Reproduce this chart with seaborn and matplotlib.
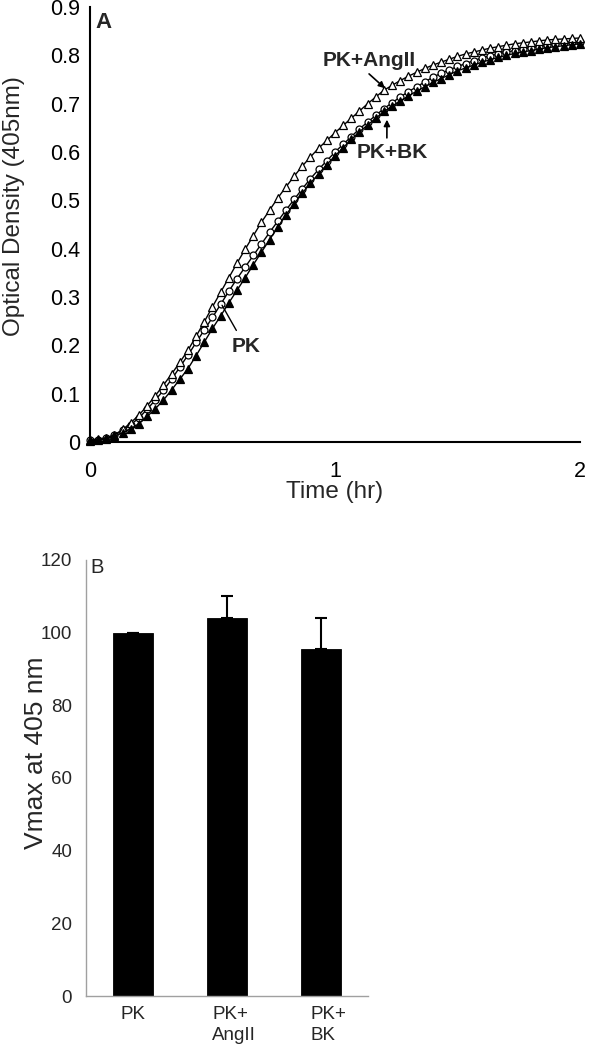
import numpy as np
import pandas as pd
import matplotlib
matplotlib.use("Agg")
import matplotlib.pyplot as plt
import matplotlib.transforms as mtransforms
import seaborn as sns

# --- panel A: optical density time course (one reading every 2 min) ---
minutes = [0, 2, 4, 6, 8, 10, 12, 14, 16, 18, 20, 22, 24, 26, 28, 30, 32, 34, 36, 38,
           40, 42, 44, 46, 48, 50, 52, 54, 56, 58, 60, 62, 64, 66, 68, 70, 72, 74, 76, 78,
           80, 82, 84, 86, 88, 90, 92, 94, 96, 98, 100, 102, 104, 106, 108, 110, 112, 114,
           116, 118, 120]

od_angii = [0.005, 0.006, 0.009, 0.015, 0.026, 0.040, 0.056, 0.075, 0.096, 0.118,
            0.141, 0.165, 0.190, 0.219, 0.249, 0.280, 0.310, 0.340, 0.370, 0.399,
            0.427, 0.455, 0.480, 0.505, 0.528, 0.550, 0.571, 0.590, 0.608, 0.624,
            0.640, 0.655, 0.670, 0.685, 0.700, 0.714, 0.728, 0.738, 0.748, 0.757,
            0.765, 0.773, 0.780, 0.786, 0.792, 0.798, 0.803, 0.807, 0.811, 0.815,
            0.818, 0.821, 0.824, 0.826, 0.828, 0.830, 0.832, 0.833, 0.834, 0.835, 0.836]

od_pk = [0.004, 0.005, 0.008, 0.014, 0.024, 0.036, 0.050, 0.068, 0.087, 0.107,
         0.130, 0.155, 0.180, 0.206, 0.232, 0.258, 0.285, 0.312, 0.338, 0.362,
         0.386, 0.410, 0.434, 0.457, 0.480, 0.502, 0.524, 0.545, 0.564, 0.582,
         0.600, 0.616, 0.632, 0.648, 0.662, 0.676, 0.690, 0.702, 0.714, 0.725,
         0.735, 0.745, 0.755, 0.763, 0.770, 0.777, 0.783, 0.789, 0.795, 0.799,
         0.803, 0.807, 0.810, 0.813, 0.816, 0.818, 0.821, 0.823, 0.825, 0.827, 0.828]

od_bk = [0.003, 0.004, 0.007, 0.012, 0.019, 0.028, 0.038, 0.053, 0.069, 0.087,
         0.108, 0.130, 0.152, 0.179, 0.207, 0.235, 0.261, 0.288, 0.314, 0.340,
         0.367, 0.393, 0.419, 0.445, 0.470, 0.493, 0.515, 0.536, 0.555, 0.574,
         0.592, 0.609, 0.626, 0.642, 0.656, 0.670, 0.684, 0.695, 0.706, 0.716,
         0.726, 0.735, 0.744, 0.752, 0.760, 0.768, 0.774, 0.780, 0.786, 0.791,
         0.796, 0.800, 0.804, 0.807, 0.810, 0.813, 0.816, 0.818, 0.820, 0.822, 0.824]

# --- panel B: Vmax ---
groups = ["PK", "PK+\nAngII", "PK+\nBK"]
vmax = [100, 104, 95.5]
vmax_err = [0, 6, 8.5]

sns.set_style("white")
plt.rcParams["font.family"] = ["Liberation Sans", "DejaVu Sans"]

fig = plt.figure(figsize=(5.89, 10.5), dpi=100)

# ---------------- panel A ----------------
ax = fig.add_axes([0.1528, 0.579, 0.8319, 0.4143])
hours = np.array(minutes) / 60.0
df = pd.DataFrame({"t": hours, "PK": od_pk, "PK+AngII": od_angii, "PK+BK": od_bk})

sns.lineplot(data=df, x="t", y="PK", ax=ax, color="black", linewidth=1,
             marker="o", markersize=5, markerfacecolor="white",
             markeredgecolor="black", markeredgewidth=0.9, clip_on=False)
sns.lineplot(data=df, x="t", y="PK+AngII", ax=ax, color="black", linewidth=1,
             marker="^", markersize=5.5, markerfacecolor="white",
             markeredgecolor="black", markeredgewidth=0.9, clip_on=False)
sns.lineplot(data=df, x="t", y="PK+BK", ax=ax, color="black", linewidth=1,
             marker="^", markersize=5.5, markerfacecolor="black",
             markeredgecolor="black", markeredgewidth=0.9, clip_on=False)

ax.set_xlim(0, 2)
ax.set_ylim(0, 0.9)
ax.set_xticks([0, 1, 2])
ax.set_xticklabels(["0", "1", "2"])
ax.set_yticks(np.arange(0, 0.95, 0.1))
ax.set_yticklabels(["0", "0.1", "0.2", "0.3", "0.4", "0.5", "0.6", "0.7", "0.8", "0.9"])
ax.tick_params(axis="both", labelsize=15.5, colors="black", direction="out", length=3, width=1)
ax.tick_params(axis="x", pad=11)
ax.tick_params(axis="y", pad=4)
for s in ["top", "right"]:
    ax.spines[s].set_visible(False)
for s in ["left", "bottom"]:
    ax.spines[s].set_color("black")
    ax.spines[s].set_linewidth(1.5)
ax.set_xlabel("Time (hr)", fontsize=17.5, labelpad=-1)
ax.set_ylabel("Optical Density (405nm)", fontsize=17.5)
ax.yaxis.set_label_coords(-0.132, 0.543)

ax.text(0.012, 0.988, "A", transform=ax.transAxes, fontsize=16, fontweight="bold",
        ha="left", va="top")
ax.annotate("PK+AngII", xy=(1.204, 0.732), xytext=(1.139, 0.790), fontsize=15,
            fontweight="bold", ha="center", va="center",
            arrowprops=dict(arrowstyle="-|>", color="black", lw=1.2, shrinkA=1, shrinkB=0,
                            mutation_scale=9, relpos=(0.45, 0.0)))
ax.annotate("PK+BK", xy=(1.212, 0.667), xytext=(1.235, 0.600), fontsize=15,
            fontweight="bold", ha="center", va="center",
            arrowprops=dict(arrowstyle="-|>", color="black", lw=1.2, shrinkA=1, shrinkB=0,
                            mutation_scale=9, relpos=(0.42, 1.0)))
ax.annotate("PK", xy=(0.539, 0.283), xytext=(0.637, 0.197), fontsize=15,
            fontweight="bold", ha="center", va="center",
            arrowprops=dict(arrowstyle="-", color="black", lw=1.0, shrinkA=3, shrinkB=0,
                            relpos=(0.3, 1.0)))

# ---------------- panel B ----------------
bx = fig.add_axes([0.146, 0.0514, 0.4788, 0.4153])
bar_df = pd.DataFrame({"group": groups, "vmax": vmax})
sns.barplot(data=bar_df, x="group", y="vmax", ax=bx, color="black", width=0.43,
            edgecolor="black", linewidth=0.6, saturation=1)
bx.errorbar(x=np.arange(len(groups)), y=vmax,
            yerr=[np.zeros(len(groups)), vmax_err], fmt="none", ecolor="black",
            elinewidth=1.5, capsize=4.5, capthick=1.5)

bx.set_xlim(-0.5, 2.5)
bx.set_ylim(0, 120)
bx.set_yticks(np.arange(0, 121, 20))
bx.set_xticks([-0.5, 0.5, 1.5, 2.5], minor=True)
bx.tick_params(axis="x", which="major", length=0, pad=7, labelsize=13.5)
bx.tick_params(axis="x", which="minor", length=5, width=0.8, color="#a0a0a0", direction="out")
bx.tick_params(axis="y", length=4, width=0.8, color="#a0a0a0", direction="out",
               labelsize=13.5, pad=6)
shift = mtransforms.ScaledTranslation(7 / 100, 0, fig.dpi_scale_trans)
for i, lbl in enumerate(bx.get_xticklabels()):
    lbl.set_multialignment("left")
    lbl.set_linespacing(1.3)
    if i > 0:
        lbl.set_transform(lbl.get_transform() + shift)
for s in ["top", "right"]:
    bx.spines[s].set_visible(False)
for s in ["left", "bottom"]:
    bx.spines[s].set_color("#a0a0a0")
    bx.spines[s].set_linewidth(1)
bx.set_xlabel("")
bx.set_ylabel("Vmax at 405 nm", fontsize=19)
bx.yaxis.set_label_coords(-0.135, 0.557)
bx.text(0.014, 0.982, "B", transform=bx.transAxes, fontsize=14.5, ha="left", va="center")

fig.savefig("out.png", dpi=100)
